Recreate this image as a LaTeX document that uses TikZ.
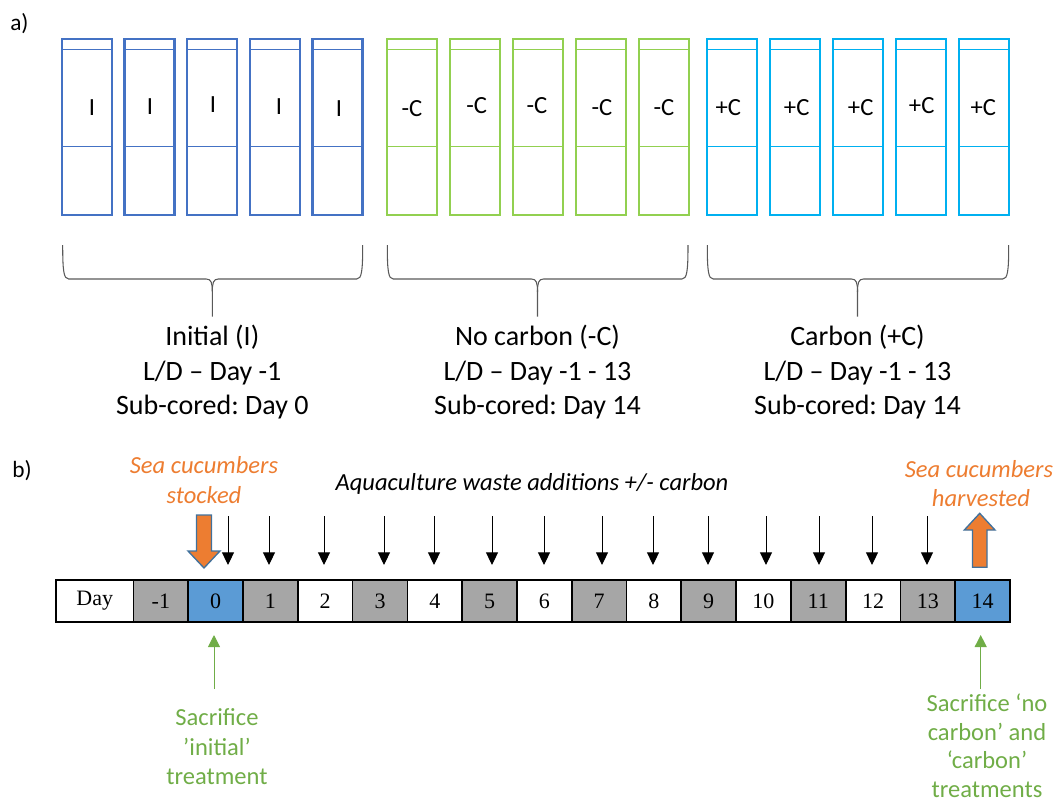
\documentclass[tikz,border=0pt]{standalone}
\usepackage{fontspec}
\setmainfont{Carlito}
\newfontfamily\tnr{Liberation Serif}
\usetikzlibrary{arrows.meta}
\frenchspacing
\definecolor{tblue}{HTML}{4472C4}
\definecolor{tgreen}{HTML}{92D050}
\definecolor{tcyan}{HTML}{00B0F0}
\definecolor{cellgray}{HTML}{A6A6A6}
\definecolor{cellblue}{HTML}{5B9BD5}
\definecolor{orng}{HTML}{ED7D31}
\definecolor{orngedge}{HTML}{41719C}
\definecolor{txtgreen}{HTML}{70AD47}
\definecolor{bracegray}{HTML}{595959}
\tikzset{
  tubeouter/.style={line width=1.6pt},
  tubeinner/.style={line width=0.7pt},
  tubelbl/.style={font=\fontsize{18.5}{21}\selectfont, inner sep=0pt},
  bracestyle/.style={draw=bracegray, line width=0.8pt},
  bracetxt/.style={font=\fontsize{21}{25}\selectfont, anchor=base, inner sep=0pt},
  grntxt/.style={font=\fontsize{18.4}{22}\selectfont, text=txtgreen, anchor=base, inner sep=0pt},
  orgtxt/.style={font=\fontsize{18.4}{22}\selectfont\itshape, text=orng, anchor=base, inner sep=0pt},
  blktxt/.style={font=\fontsize{18.4}{22}\selectfont\itshape, text=black, anchor=base, inner sep=0pt},
  paneltxt/.style={font=\fontsize{17.5}{20}\selectfont, anchor=base west, inner sep=0pt},
  cell/.style={draw=black, line width=1.3pt, minimum height=31.5pt, inner sep=0pt, font=\tnr\fontsize{16.5}{19}\selectfont},
  addarrow/.style={draw=black, line width=0.75pt, -{Triangle[width=9pt,length=9.5pt]}},
  grnarrow/.style={draw=txtgreen, line width=0.75pt, -{Triangle[width=9pt,length=9pt]}},
  blockarrow/.style={fill=orng, draw=orngedge, line width=1pt, line join=miter},
}
\begin{document}
\begin{tikzpicture}[x=0.75pt,y=-0.75pt]
\useasboundingbox (0,0) rectangle (1056,803);

% panel labels
\node[paneltxt] (pa) at (10,30) {a)};
\node[paneltxt] (pb) at (12,477) {b)};

% tubes
\foreach \xl/\col in {62/tblue,124.5/tblue,187/tblue,250/tblue,312.5/tblue,
                      387.3/tgreen,450/tgreen,512.7/tgreen,576/tgreen,638.7/tgreen,
                      707.3/tcyan,770/tcyan,833.3/tcyan,896/tcyan,959/tcyan}{
  \draw[tubeinner, draw=\col] (\xl,49.3) -- (\xl+50,49.3);
  \draw[tubeinner, draw=\col] (\xl,146) -- (\xl+50,146);
  \draw[tubeouter, draw=\col] (\xl,39) rectangle (\xl+50,215);
}
% tube labels
\foreach \x/\y/\t [count=\i] in {92/108/I,150/107/I,213/105/I,279/107/I,339/109/I,
                                 412/109/-C,476.7/106/-C,537/106/-C,602/107.7/-C,664/107.7/-C,
                                 728.3/107.3/+C,796.7/107.3/+C,860.7/107.3/+C,921.7/106/+C,983.3/107.3/+C}{
  \node[tubelbl] (tl\i) at (\x,\y) {\t};
}

% braces
\foreach \xa/\m/\xb in {62.7/212.3/362.7, 387.3/537.5/688, 707.3/857.5/1008.7}{
  \draw[bracestyle] (\xa,245) .. controls (\xa,271) and (\xa+1,279) .. (\xa+6,279)
     -- (\m-6,279) .. controls (\m-1,279) and (\m,283) .. (\m,292) -- (\m,316.7);
  \draw[bracestyle] (\xb,245) .. controls (\xb,271) and (\xb-1,279) .. (\xb-6,279)
     -- (\m+6,279) .. controls (\m+1,279) and (\m,283) .. (\m,292);
}

% brace texts
\node[bracetxt] (i1) at (212.3,345.7) {Initial (I)};
\node[bracetxt] (i2) at (212.3,380.3) {L/D – Day -1};
\node[bracetxt] (i3) at (212.3,414.3) {Sub-cored: Day 0};
\node[bracetxt] (n1) at (537.5,345.7) {No carbon (-C)};
\node[bracetxt] (n2) at (537.5,380.3) {L/D – Day -1 - 13};
\node[bracetxt] (n3) at (537.5,414.3) {Sub-cored: Day 14};
\node[bracetxt] (p1) at (857.5,345.7) {Carbon (+C)};
\node[bracetxt] (p2) at (857.5,380.3) {L/D – Day -1 - 13};
\node[bracetxt] (p3) at (857.5,414.3) {Sub-cored: Day 14};

% timeline
\node[cell, fill=white, minimum width=58.1pt] (cday) at (94.75,601) {Day};
\foreach \d/\f [count=\k from 0] in {-1/cellgray,0/cellblue,1/cellgray,2/white,3/cellgray,4/white,5/cellgray,6/white,
                                     7/cellgray,8/white,9/cellgray,10/white,11/cellgray,12/white,13/cellgray,14/cellblue}{
  \node[cell, fill=\f, minimum width=41.08pt] (c\k) at ({133.5+54.78*(\k+0.5)},601) {\d};
}

% addition arrows
\foreach \ax [count=\i] in {228,269,324,384,434,492,544,602,653,708,766,819,872,927}{
  \coordinate (as\i) at (\ax,516);
  \coordinate (ae\i) at (\ax,565);
  \draw[addarrow] (as\i) -- (ae\i);
}

% orange block arrows
\draw[blockarrow] (196.5,515) -- (211.5,515) -- (211.5,551) -- (220,551) -- (204,568)
   -- (188,551) -- (196.5,551) -- cycle;
\draw[blockarrow] (972.5,567.3) -- (987,567.3) -- (987,530) -- (995,530) -- (979.7,513.3)
   -- (964.3,530) -- (972.5,530) -- cycle;

% top texts
\node[orgtxt] (s1) at (204,473.3) {Sea cucumbers};
\node[orgtxt] (s2) at (204,503.3) {stocked};
\node[orgtxt] (h1) at (979,477.3) {Sea cucumbers};
\node[orgtxt] (h2) at (981,506) {harvested};
\node[blktxt] (aq) at (532,490) {Aquaculture waste additions +/- carbon};

% green arrows
\coordinate (g1s) at (214,689);
\coordinate (g1e) at (214,635);
\draw[grnarrow] (g1s) -- (g1e);
\coordinate (g2s) at (980.7,689);
\coordinate (g2e) at (980.7,635);
\draw[grnarrow] (g2s) -- (g2e);

% green texts
\node[grntxt] (gl1) at (217,725.7) {Sacrifice};
\node[grntxt] (gl2) at (217,755) {’initial’};
\node[grntxt] (gl3) at (217,784.5) {treatment};
\node[grntxt] (gr1) at (987,711.7) {Sacrifice ‘no};
\node[grntxt] (gr2) at (987,740) {carbon’ and};
\node[grntxt] (gr3) at (987,768.3) {‘carbon’};
\node[grntxt] (gr4) at (987,797.3) {treatments};
\end{tikzpicture}
\end{document}
